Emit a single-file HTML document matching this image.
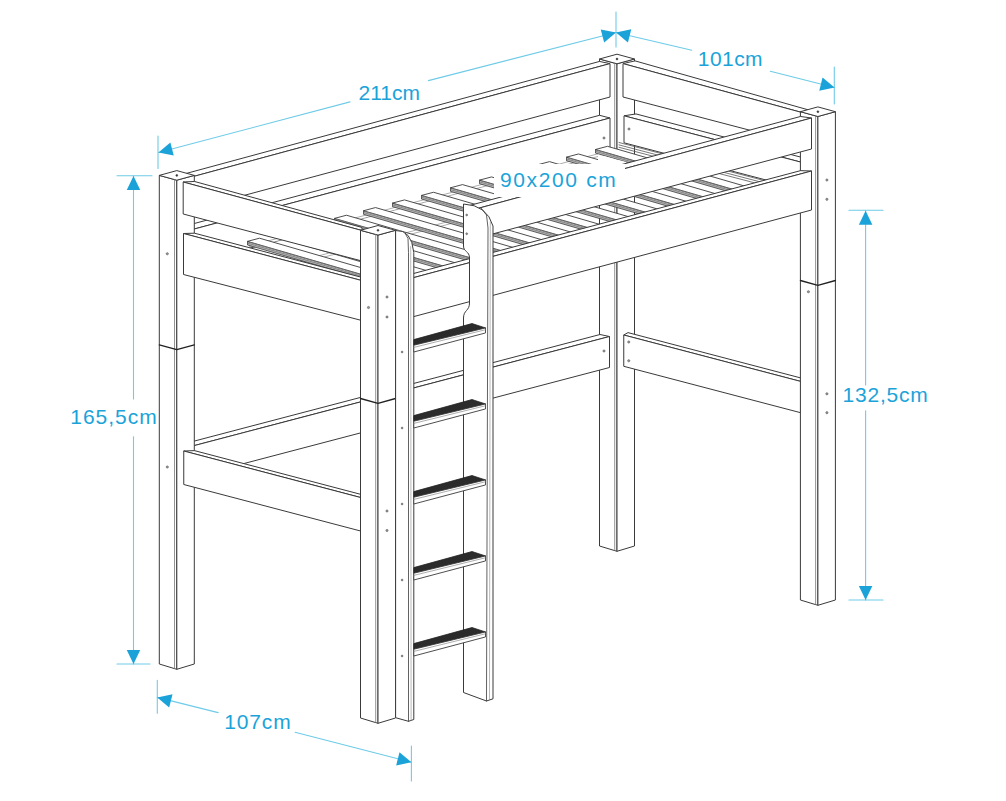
<!DOCTYPE html>
<html lang="en"><head><meta charset="utf-8"><title>Loft bed dimensions</title>
<style>
html,body{margin:0;padding:0;background:#fff;}
body{width:1006px;height:801px;overflow:hidden;}
svg{display:block;font-family:"Liberation Sans",sans-serif;}
</style></head><body>
<svg width="1006" height="801" viewBox="0 0 1006 801">
<rect width="1006" height="801" fill="#fff"/>
<polygon points="599.5,59 617,63.8 617,551.3 599.5,546" fill="#fff" stroke="#3a3a3a" stroke-width="1" stroke-linejoin="round" />
<polygon points="617,63.8 634.5,59 634.5,546 617,551.3" fill="#fff" stroke="#3a3a3a" stroke-width="1" stroke-linejoin="round" />
<polygon points="599.5,59 617,54.2 634.5,59 617,63.8" fill="#fff" stroke="#3a3a3a" stroke-width="1" stroke-linejoin="round" />
<line x1="614.7" y1="63.2" x2="614.7" y2="550.5" stroke="#777" stroke-width="0.8" stroke-linecap="round"/>
<circle cx="617" cy="59" r="0.9" fill="#333" stroke="#333" stroke-width="0.6"/>
<polygon points="185,448.02 609.5,336.5 600,334.5 185,443.52" fill="#fff" stroke="#3a3a3a" stroke-width="1" stroke-linejoin="round" />
<polygon points="185,448.02 609.5,336.5 609.5,367.5 185,479.02" fill="#fff" stroke="#3a3a3a" stroke-width="1" stroke-linejoin="round" />
<circle cx="604" cy="351" r="1.1" fill="#999" stroke="#555" stroke-width="0.6"/>
<polygon points="185,178.78 610,63.6 599.5,61.45 185,173.78" fill="#fff" stroke="#3a3a3a" stroke-width="1" stroke-linejoin="round" />
<polygon points="185,178.78 610,63.6 610,97 185,211.32" fill="#fff" stroke="#3a3a3a" stroke-width="1" stroke-linejoin="round" />
<polygon points="185,231.48 610,118 599.5,115.3 185,225.98" fill="#fff" stroke="#3a3a3a" stroke-width="1" stroke-linejoin="round" />
<polygon points="185,231.48 610,118 610,152 185,265.48" fill="#fff" stroke="#3a3a3a" stroke-width="1" stroke-linejoin="round" />
<circle cx="604" cy="138" r="1.1" fill="#999" stroke="#555" stroke-width="0.6"/>
<polygon points="623,63.6 801,112.28 809,110.07 635,60.88" fill="#fff" stroke="#3a3a3a" stroke-width="1" stroke-linejoin="round" />
<polygon points="623,63.6 801,112.28 801,143.64 623,97" fill="#fff" stroke="#3a3a3a" stroke-width="1" stroke-linejoin="round" />
<polygon points="624,115.8 801,162.17 802,157.44 636,113.94" fill="#fff" stroke="#3a3a3a" stroke-width="1" stroke-linejoin="round" />
<polygon points="624,115.8 801,162.17 801,189.17 624,142.8" fill="#fff" stroke="#3a3a3a" stroke-width="1" stroke-linejoin="round" />
<circle cx="629" cy="129" r="1.1" fill="#999" stroke="#555" stroke-width="0.6"/>
<line x1="619" y1="142.5" x2="800" y2="189.92" stroke="#555" stroke-width="0.8" stroke-linecap="round"/>
<line x1="619" y1="144.9" x2="800" y2="192.32" stroke="#555" stroke-width="0.8" stroke-linecap="round"/>
<line x1="619" y1="147.3" x2="800" y2="194.72" stroke="#555" stroke-width="0.8" stroke-linecap="round"/>
<polygon points="623.75,335 801,381.51 803,378.54 628,332.62" fill="#fff" stroke="#3a3a3a" stroke-width="1" stroke-linejoin="round" />
<polygon points="623.75,335 801,381.51 801,412.81 623.75,366.3" fill="#fff" stroke="#3a3a3a" stroke-width="1" stroke-linejoin="round" />
<circle cx="628.75" cy="342" r="1.1" fill="#999" stroke="#555" stroke-width="0.6"/>
<circle cx="628.75" cy="360.75" r="1.1" fill="#999" stroke="#555" stroke-width="0.6"/>
<polygon points="249,245.95 615,149.33 620,150.68 254,247.3" fill="#fff" stroke="#777" stroke-width="0.6" stroke-linejoin="round" />
<polygon points="300,260.74 666,164.12 671,165.47 305,262.09" fill="#fff" stroke="#777" stroke-width="0.6" stroke-linejoin="round" />
<polygon points="218.5,249.02 388.5,298.32 388.5,301.92 218.5,252.62" fill="#b9b9b9" stroke="#3a3a3a" stroke-width="0.8" stroke-linejoin="round" />
<line x1="218.5" y1="250.82" x2="388.5" y2="300.12" stroke="#666" stroke-width="0.6" stroke-linecap="round"/>
<polygon points="218.5,249.02 230.5,245.85 400.5,295.15 388.5,298.32" fill="#fff" stroke="#3a3a3a" stroke-width="0.9" stroke-linejoin="round" />
<line x1="220.5" y1="249.92" x2="390.5" y2="299.22" stroke="#999" stroke-width="0.5" stroke-linecap="round"/>
<polygon points="247.5,241.36 417.5,290.66 417.5,294.26 247.5,244.96" fill="#b9b9b9" stroke="#3a3a3a" stroke-width="0.8" stroke-linejoin="round" />
<line x1="247.5" y1="243.16" x2="417.5" y2="292.46" stroke="#666" stroke-width="0.6" stroke-linecap="round"/>
<polygon points="247.5,241.36 259.5,238.2 429.5,287.5 417.5,290.66" fill="#fff" stroke="#3a3a3a" stroke-width="0.9" stroke-linejoin="round" />
<line x1="249.5" y1="242.26" x2="419.5" y2="291.56" stroke="#999" stroke-width="0.5" stroke-linecap="round"/>
<polygon points="276.5,233.71 446.5,283.01 446.5,286.61 276.5,237.31" fill="#b9b9b9" stroke="#3a3a3a" stroke-width="0.8" stroke-linejoin="round" />
<line x1="276.5" y1="235.51" x2="446.5" y2="284.81" stroke="#666" stroke-width="0.6" stroke-linecap="round"/>
<polygon points="276.5,233.71 288.5,230.54 458.5,279.84 446.5,283.01" fill="#fff" stroke="#3a3a3a" stroke-width="0.9" stroke-linejoin="round" />
<line x1="278.5" y1="234.61" x2="448.5" y2="283.91" stroke="#999" stroke-width="0.5" stroke-linecap="round"/>
<polygon points="305.5,226.05 475.5,275.35 475.5,278.95 305.5,229.65" fill="#b9b9b9" stroke="#3a3a3a" stroke-width="0.8" stroke-linejoin="round" />
<line x1="305.5" y1="227.85" x2="475.5" y2="277.15" stroke="#666" stroke-width="0.6" stroke-linecap="round"/>
<polygon points="305.5,226.05 317.5,222.88 487.5,272.18 475.5,275.35" fill="#fff" stroke="#3a3a3a" stroke-width="0.9" stroke-linejoin="round" />
<line x1="307.5" y1="226.95" x2="477.5" y2="276.25" stroke="#999" stroke-width="0.5" stroke-linecap="round"/>
<polygon points="334.5,218.4 504.5,267.7 504.5,271.3 334.5,222" fill="#b9b9b9" stroke="#3a3a3a" stroke-width="0.8" stroke-linejoin="round" />
<line x1="334.5" y1="220.2" x2="504.5" y2="269.5" stroke="#666" stroke-width="0.6" stroke-linecap="round"/>
<polygon points="334.5,218.4 346.5,215.23 516.5,264.53 504.5,267.7" fill="#fff" stroke="#3a3a3a" stroke-width="0.9" stroke-linejoin="round" />
<line x1="336.5" y1="219.3" x2="506.5" y2="268.6" stroke="#999" stroke-width="0.5" stroke-linecap="round"/>
<polygon points="363.5,210.74 533.5,260.04 533.5,263.64 363.5,214.34" fill="#b9b9b9" stroke="#3a3a3a" stroke-width="0.8" stroke-linejoin="round" />
<line x1="363.5" y1="212.54" x2="533.5" y2="261.84" stroke="#666" stroke-width="0.6" stroke-linecap="round"/>
<polygon points="363.5,210.74 375.5,207.57 545.5,256.87 533.5,260.04" fill="#fff" stroke="#3a3a3a" stroke-width="0.9" stroke-linejoin="round" />
<line x1="365.5" y1="211.64" x2="535.5" y2="260.94" stroke="#999" stroke-width="0.5" stroke-linecap="round"/>
<polygon points="392.5,203.08 562.5,252.38 562.5,255.98 392.5,206.68" fill="#b9b9b9" stroke="#3a3a3a" stroke-width="0.8" stroke-linejoin="round" />
<line x1="392.5" y1="204.88" x2="562.5" y2="254.18" stroke="#666" stroke-width="0.6" stroke-linecap="round"/>
<polygon points="392.5,203.08 404.5,199.92 574.5,249.22 562.5,252.38" fill="#fff" stroke="#3a3a3a" stroke-width="0.9" stroke-linejoin="round" />
<line x1="394.5" y1="203.98" x2="564.5" y2="253.28" stroke="#999" stroke-width="0.5" stroke-linecap="round"/>
<polygon points="421.5,195.43 591.5,244.73 591.5,248.33 421.5,199.03" fill="#b9b9b9" stroke="#3a3a3a" stroke-width="0.8" stroke-linejoin="round" />
<line x1="421.5" y1="197.23" x2="591.5" y2="246.53" stroke="#666" stroke-width="0.6" stroke-linecap="round"/>
<polygon points="421.5,195.43 433.5,192.26 603.5,241.56 591.5,244.73" fill="#fff" stroke="#3a3a3a" stroke-width="0.9" stroke-linejoin="round" />
<line x1="423.5" y1="196.33" x2="593.5" y2="245.63" stroke="#999" stroke-width="0.5" stroke-linecap="round"/>
<polygon points="450.5,187.77 620.5,237.07 620.5,240.67 450.5,191.37" fill="#b9b9b9" stroke="#3a3a3a" stroke-width="0.8" stroke-linejoin="round" />
<line x1="450.5" y1="189.57" x2="620.5" y2="238.87" stroke="#666" stroke-width="0.6" stroke-linecap="round"/>
<polygon points="450.5,187.77 462.5,184.6 632.5,233.9 620.5,237.07" fill="#fff" stroke="#3a3a3a" stroke-width="0.9" stroke-linejoin="round" />
<line x1="452.5" y1="188.67" x2="622.5" y2="237.97" stroke="#999" stroke-width="0.5" stroke-linecap="round"/>
<polygon points="479.5,180.12 649.5,229.42 649.5,233.02 479.5,183.72" fill="#b9b9b9" stroke="#3a3a3a" stroke-width="0.8" stroke-linejoin="round" />
<line x1="479.5" y1="181.92" x2="649.5" y2="231.22" stroke="#666" stroke-width="0.6" stroke-linecap="round"/>
<polygon points="479.5,180.12 491.5,176.95 661.5,226.25 649.5,229.42" fill="#fff" stroke="#3a3a3a" stroke-width="0.9" stroke-linejoin="round" />
<line x1="481.5" y1="181.02" x2="651.5" y2="230.32" stroke="#999" stroke-width="0.5" stroke-linecap="round"/>
<polygon points="508.5,172.46 678.5,221.76 678.5,225.36 508.5,176.06" fill="#b9b9b9" stroke="#3a3a3a" stroke-width="0.8" stroke-linejoin="round" />
<line x1="508.5" y1="174.26" x2="678.5" y2="223.56" stroke="#666" stroke-width="0.6" stroke-linecap="round"/>
<polygon points="508.5,172.46 520.5,169.29 690.5,218.59 678.5,221.76" fill="#fff" stroke="#3a3a3a" stroke-width="0.9" stroke-linejoin="round" />
<line x1="510.5" y1="173.36" x2="680.5" y2="222.66" stroke="#999" stroke-width="0.5" stroke-linecap="round"/>
<polygon points="537.5,164.8 707.5,214.1 707.5,217.7 537.5,168.4" fill="#b9b9b9" stroke="#3a3a3a" stroke-width="0.8" stroke-linejoin="round" />
<line x1="537.5" y1="166.6" x2="707.5" y2="215.9" stroke="#666" stroke-width="0.6" stroke-linecap="round"/>
<polygon points="537.5,164.8 549.5,161.64 719.5,210.94 707.5,214.1" fill="#fff" stroke="#3a3a3a" stroke-width="0.9" stroke-linejoin="round" />
<line x1="539.5" y1="165.7" x2="709.5" y2="215" stroke="#999" stroke-width="0.5" stroke-linecap="round"/>
<polygon points="566.5,157.15 736.5,206.45 736.5,210.05 566.5,160.75" fill="#b9b9b9" stroke="#3a3a3a" stroke-width="0.8" stroke-linejoin="round" />
<line x1="566.5" y1="158.95" x2="736.5" y2="208.25" stroke="#666" stroke-width="0.6" stroke-linecap="round"/>
<polygon points="566.5,157.15 578.5,153.98 748.5,203.28 736.5,206.45" fill="#fff" stroke="#3a3a3a" stroke-width="0.9" stroke-linejoin="round" />
<line x1="568.5" y1="158.05" x2="738.5" y2="207.35" stroke="#999" stroke-width="0.5" stroke-linecap="round"/>
<polygon points="595.5,149.49 765.5,198.79 765.5,202.39 595.5,153.09" fill="#b9b9b9" stroke="#3a3a3a" stroke-width="0.8" stroke-linejoin="round" />
<line x1="595.5" y1="151.29" x2="765.5" y2="200.59" stroke="#666" stroke-width="0.6" stroke-linecap="round"/>
<polygon points="595.5,149.49 607.5,146.32 777.5,195.62 765.5,198.79" fill="#fff" stroke="#3a3a3a" stroke-width="0.9" stroke-linejoin="round" />
<line x1="597.5" y1="150.39" x2="767.5" y2="199.69" stroke="#999" stroke-width="0.5" stroke-linecap="round"/>
<polygon points="598,154.5 626,162 626,166 598,166" fill="#fff" stroke="none" stroke-width="0" stroke-linejoin="round" />
<polygon points="800.4,111.7 817.9,116.5 817.9,605.3 800.4,600" fill="#fff" stroke="#3a3a3a" stroke-width="1" stroke-linejoin="round" />
<polygon points="817.9,116.5 835.4,111.7 835.4,600 817.9,605.3" fill="#fff" stroke="#3a3a3a" stroke-width="1" stroke-linejoin="round" />
<polygon points="800.4,111.7 817.9,106.9 835.4,111.7 817.9,116.5" fill="#fff" stroke="#3a3a3a" stroke-width="1" stroke-linejoin="round" />
<line x1="815.6" y1="115.9" x2="815.6" y2="604.5" stroke="#777" stroke-width="0.8" stroke-linecap="round"/>
<circle cx="817.9" cy="111.7" r="0.9" fill="#333" stroke="#333" stroke-width="0.6"/>
<polyline points="800.4,280.5 817.9,285.3 835.4,280.5" fill="none" stroke="#222" stroke-width="1.3" stroke-linejoin="round" stroke-linecap="round" />
<circle cx="808.4" cy="291.75" r="1.1" fill="#999" stroke="#555" stroke-width="0.6"/>
<circle cx="826.9" cy="180" r="1.1" fill="#999" stroke="#555" stroke-width="0.6"/>
<circle cx="826.9" cy="199.3" r="1.1" fill="#999" stroke="#555" stroke-width="0.6"/>
<circle cx="826.9" cy="393.8" r="1.1" fill="#999" stroke="#555" stroke-width="0.6"/>
<circle cx="826.9" cy="412.7" r="1.1" fill="#999" stroke="#555" stroke-width="0.6"/>
<polygon points="470,210.55 811.5,118 800.5,116.48 470,205.35" fill="#fff" stroke="#3a3a3a" stroke-width="1" stroke-linejoin="round" />
<polygon points="470,210.55 811.5,118 811.5,149 470,240.01" fill="#fff" stroke="#3a3a3a" stroke-width="1" stroke-linejoin="round" />
<polygon points="390,283.96 811.5,171 800.5,170.65 390,279.76" fill="#fff" stroke="#3a3a3a" stroke-width="1" stroke-linejoin="round" />
<polygon points="390,283.96 811.5,171 811.5,210 390,322.96" fill="#fff" stroke="#3a3a3a" stroke-width="1" stroke-linejoin="round" />
<polygon points="159.3,175.4 176.8,180.2 176.8,669.3 159.3,664" fill="#fff" stroke="#3a3a3a" stroke-width="1" stroke-linejoin="round" />
<polygon points="176.8,180.2 194.3,175.4 194.3,664 176.8,669.3" fill="#fff" stroke="#3a3a3a" stroke-width="1" stroke-linejoin="round" />
<polygon points="159.3,175.4 176.8,170.6 194.3,175.4 176.8,180.2" fill="#fff" stroke="#3a3a3a" stroke-width="1" stroke-linejoin="round" />
<line x1="174.5" y1="179.6" x2="174.5" y2="668.5" stroke="#777" stroke-width="0.8" stroke-linecap="round"/>
<circle cx="176.8" cy="175.4" r="0.9" fill="#333" stroke="#333" stroke-width="0.6"/>
<polyline points="159.3,344.8 176.8,349.6 194.3,344.8" fill="none" stroke="#222" stroke-width="1.3" stroke-linejoin="round" stroke-linecap="round" />
<circle cx="167.3" cy="253.75" r="1.1" fill="#999" stroke="#555" stroke-width="0.6"/>
<circle cx="167.3" cy="467" r="1.1" fill="#999" stroke="#555" stroke-width="0.6"/>
<polygon points="183.2,182 362,230.54 362,227.44 194.5,181.47" fill="#fff" stroke="#3a3a3a" stroke-width="1" stroke-linejoin="round" />
<polygon points="183.2,182 362,230.54 362,261.02 183.2,214" fill="#fff" stroke="#3a3a3a" stroke-width="1" stroke-linejoin="round" />
<polygon points="183.5,233.5 362,280.62 362,277.42 194.5,233.2" fill="#fff" stroke="#3a3a3a" stroke-width="1" stroke-linejoin="round" />
<polygon points="183.5,233.5 362,280.62 362,320.55 183.5,274.5" fill="#fff" stroke="#3a3a3a" stroke-width="1" stroke-linejoin="round" />
<polygon points="183.75,451 362,497.88 362,494.68 194.5,450.63" fill="#fff" stroke="#3a3a3a" stroke-width="1" stroke-linejoin="round" />
<polygon points="183.75,451 362,497.88 362,531.38 183.75,484.5" fill="#fff" stroke="#3a3a3a" stroke-width="1" stroke-linejoin="round" />
<polygon points="360.5,230.3 378,235.1 378,723.3 360.5,718" fill="#fff" stroke="#3a3a3a" stroke-width="1" stroke-linejoin="round" />
<polygon points="378,235.1 395.5,230.3 395.5,718 378,723.3" fill="#fff" stroke="#3a3a3a" stroke-width="1" stroke-linejoin="round" />
<polygon points="360.5,230.3 378,225.5 395.5,230.3 378,235.1" fill="#fff" stroke="#3a3a3a" stroke-width="1" stroke-linejoin="round" />
<line x1="375.7" y1="234.5" x2="375.7" y2="722.5" stroke="#777" stroke-width="0.8" stroke-linecap="round"/>
<circle cx="378" cy="230.3" r="0.9" fill="#333" stroke="#333" stroke-width="0.6"/>
<polyline points="360.5,398.5 378,403.3 395.5,398.5" fill="none" stroke="#222" stroke-width="1.3" stroke-linejoin="round" stroke-linecap="round" />
<circle cx="368.5" cy="307.5" r="1.1" fill="#999" stroke="#555" stroke-width="0.6"/>
<circle cx="387" cy="297" r="1.1" fill="#999" stroke="#555" stroke-width="0.6"/>
<circle cx="387" cy="317" r="1.1" fill="#999" stroke="#555" stroke-width="0.6"/>
<circle cx="387" cy="511" r="1.1" fill="#999" stroke="#555" stroke-width="0.6"/>
<circle cx="387" cy="530.5" r="1.1" fill="#999" stroke="#555" stroke-width="0.6"/>
<path d="M 395.6 717.7 L 395.6 230.5 Q 411.5 229.5 413.8 252.5 L 413.8 719.5 L 408.5 721.3 L 395.6 717.7 Z" fill="#fff" stroke="#3a3a3a" stroke-width="1" stroke-linejoin="round"/>
<polyline points="405.5,234 408,238.5 408.5,252.5 408.5,721.3" fill="none" stroke="#3a3a3a" stroke-width="0.8" stroke-linejoin="round" stroke-linecap="round" />
<polyline points="410.7,246.5 411.1,720.5" fill="none" stroke="#888" stroke-width="0.6" stroke-linejoin="round" stroke-linecap="round" />
<circle cx="402.1" cy="352" r="0.9" fill="#999" stroke="#555" stroke-width="0.6"/>
<circle cx="402.1" cy="428" r="0.9" fill="#999" stroke="#555" stroke-width="0.6"/>
<circle cx="402.1" cy="504" r="0.9" fill="#999" stroke="#555" stroke-width="0.6"/>
<circle cx="402.1" cy="580" r="0.9" fill="#999" stroke="#555" stroke-width="0.6"/>
<circle cx="402.1" cy="656" r="0.9" fill="#999" stroke="#555" stroke-width="0.6"/>
<path d="M 463.5 204 L 463.5 246 C 463.5 252 469.5 251 469.5 258 L 469.5 303 C 469.5 311 463.5 310 463.5 318 L 463.5 692.5 L 486.5 701 L 493 698.8 L 493 226 Q 487 205 463.5 204 Z" fill="#fff" stroke="#3a3a3a" stroke-width="1" stroke-linejoin="round"/>
<polyline points="481,208 486.5,215 488,228 486.5,701" fill="none" stroke="#3a3a3a" stroke-width="0.8" stroke-linejoin="round" stroke-linecap="round" />
<polyline points="490.3,222 489.5,699.8" fill="none" stroke="#888" stroke-width="0.6" stroke-linejoin="round" stroke-linecap="round" />
<circle cx="466.7" cy="215" r="0.9" fill="#999" stroke="#555" stroke-width="0.6"/>
<circle cx="466.7" cy="233.75" r="0.9" fill="#999" stroke="#555" stroke-width="0.6"/>
<polygon points="413.8,339.6 472,323.54 485.5,327.94 413.8,345.2" fill="#2b2b2b" stroke="#222" stroke-width="0.8" stroke-linejoin="round" />
<polygon points="413.8,345.2 485.5,327.94 485.5,332.94 413.8,352" fill="#fff" stroke="#3a3a3a" stroke-width="0.9" stroke-linejoin="round" />
<line x1="413.8" y1="347.4" x2="485.5" y2="329.74" stroke="#777" stroke-width="0.6" stroke-linecap="round"/>
<polygon points="413.8,415.6 472,399.54 485.5,403.94 413.8,421.2" fill="#2b2b2b" stroke="#222" stroke-width="0.8" stroke-linejoin="round" />
<polygon points="413.8,421.2 485.5,403.94 485.5,408.94 413.8,428" fill="#fff" stroke="#3a3a3a" stroke-width="0.9" stroke-linejoin="round" />
<line x1="413.8" y1="423.4" x2="485.5" y2="405.74" stroke="#777" stroke-width="0.6" stroke-linecap="round"/>
<polygon points="413.8,491.6 472,475.54 485.5,479.94 413.8,497.2" fill="#2b2b2b" stroke="#222" stroke-width="0.8" stroke-linejoin="round" />
<polygon points="413.8,497.2 485.5,479.94 485.5,484.94 413.8,504" fill="#fff" stroke="#3a3a3a" stroke-width="0.9" stroke-linejoin="round" />
<line x1="413.8" y1="499.4" x2="485.5" y2="481.74" stroke="#777" stroke-width="0.6" stroke-linecap="round"/>
<polygon points="413.8,567.6 472,551.54 485.5,555.94 413.8,573.2" fill="#2b2b2b" stroke="#222" stroke-width="0.8" stroke-linejoin="round" />
<polygon points="413.8,573.2 485.5,555.94 485.5,560.94 413.8,580" fill="#fff" stroke="#3a3a3a" stroke-width="0.9" stroke-linejoin="round" />
<line x1="413.8" y1="575.4" x2="485.5" y2="557.74" stroke="#777" stroke-width="0.6" stroke-linecap="round"/>
<polygon points="413.8,643.6 472,627.54 485.5,631.94 413.8,649.2" fill="#2b2b2b" stroke="#222" stroke-width="0.8" stroke-linejoin="round" />
<polygon points="413.8,649.2 485.5,631.94 485.5,636.94 413.8,656" fill="#fff" stroke="#3a3a3a" stroke-width="0.9" stroke-linejoin="round" />
<line x1="413.8" y1="651.4" x2="485.5" y2="633.74" stroke="#777" stroke-width="0.6" stroke-linecap="round"/>
<rect x="494" y="164" width="131" height="33" fill="#fff"/>
<line x1="158" y1="136" x2="158" y2="168.5" stroke="#6fcbe8" stroke-width="1.1" stroke-linecap="round"/>
<line x1="616" y1="12" x2="616" y2="47" stroke="#6fcbe8" stroke-width="1.1" stroke-linecap="round"/>
<line x1="158.5" y1="152.5" x2="350" y2="101.9" stroke="#6fcbe8" stroke-width="1.1" stroke-linecap="round"/>
<line x1="428.4" y1="80.6" x2="616" y2="32.5" stroke="#6fcbe8" stroke-width="1.1" stroke-linecap="round"/>
<polygon points="158.5,152.5 170.33,142.42 173.75,155.48" fill="#1ba3d9" stroke="none" stroke-width="0" stroke-linejoin="round" />
<polygon points="616,32.5 604.17,42.58 600.75,29.52" fill="#1ba3d9" stroke="none" stroke-width="0" stroke-linejoin="round" />
<text x="389.2" y="99.8" font-size="21" text-anchor="middle" fill="#1ba3d9" letter-spacing="0">211cm</text>
<line x1="616" y1="32.5" x2="691.8" y2="50.2" stroke="#6fcbe8" stroke-width="1.1" stroke-linecap="round"/>
<line x1="770.3" y1="71.3" x2="834.5" y2="87.5" stroke="#6fcbe8" stroke-width="1.1" stroke-linecap="round"/>
<line x1="834.3" y1="67" x2="834.3" y2="104" stroke="#6fcbe8" stroke-width="1.1" stroke-linecap="round"/>
<polygon points="616,32.5 631.22,29.37 627.93,42.46" fill="#1ba3d9" stroke="none" stroke-width="0" stroke-linejoin="round" />
<polygon points="834.5,87.5 819.28,90.63 822.57,77.54" fill="#1ba3d9" stroke="none" stroke-width="0" stroke-linejoin="round" />
<text x="730.4" y="66.1" font-size="21" text-anchor="middle" fill="#1ba3d9" letter-spacing="0.45">101cm</text>
<line x1="117" y1="175.7" x2="152" y2="175.7" stroke="#6fcbe8" stroke-width="1.1" stroke-linecap="round"/>
<line x1="117" y1="664" x2="150" y2="664" stroke="#6fcbe8" stroke-width="1.1" stroke-linecap="round"/>
<line x1="133.5" y1="176" x2="133.5" y2="399" stroke="#6fcbe8" stroke-width="1.1" stroke-linecap="round"/>
<line x1="133.5" y1="436.7" x2="133.5" y2="664" stroke="#6fcbe8" stroke-width="1.1" stroke-linecap="round"/>
<polygon points="133.5,176 140.25,190 126.75,190" fill="#1ba3d9" stroke="none" stroke-width="0" stroke-linejoin="round" />
<polygon points="133.5,664 126.75,650 140.25,650" fill="#1ba3d9" stroke="none" stroke-width="0" stroke-linejoin="round" />
<text x="114" y="424" font-size="21" text-anchor="middle" fill="#1ba3d9" letter-spacing="1">165,5cm</text>
<line x1="849" y1="210.3" x2="883" y2="210.3" stroke="#6fcbe8" stroke-width="1.1" stroke-linecap="round"/>
<line x1="849" y1="600" x2="883" y2="600" stroke="#6fcbe8" stroke-width="1.1" stroke-linecap="round"/>
<line x1="865.6" y1="210.5" x2="865.6" y2="385" stroke="#6fcbe8" stroke-width="1.1" stroke-linecap="round"/>
<line x1="865.6" y1="410.7" x2="865.6" y2="600" stroke="#6fcbe8" stroke-width="1.1" stroke-linecap="round"/>
<polygon points="865.6,210.8 872.35,224.8 858.85,224.8" fill="#1ba3d9" stroke="none" stroke-width="0" stroke-linejoin="round" />
<polygon points="865.6,600 858.85,586 872.35,586" fill="#1ba3d9" stroke="none" stroke-width="0" stroke-linejoin="round" />
<text x="885.6" y="402.1" font-size="21" text-anchor="middle" fill="#1ba3d9" letter-spacing="0.8">132,5cm</text>
<line x1="157.3" y1="680.4" x2="157.3" y2="713.2" stroke="#6fcbe8" stroke-width="1.1" stroke-linecap="round"/>
<line x1="411.4" y1="746" x2="411.4" y2="781" stroke="#6fcbe8" stroke-width="1.1" stroke-linecap="round"/>
<line x1="157.3" y1="697.4" x2="218.1" y2="712.6" stroke="#6fcbe8" stroke-width="1.1" stroke-linecap="round"/>
<line x1="295.1" y1="732.3" x2="411.4" y2="762.3" stroke="#6fcbe8" stroke-width="1.1" stroke-linecap="round"/>
<polygon points="157.3,697.4 172.53,694.32 169.19,707.4" fill="#1ba3d9" stroke="none" stroke-width="0" stroke-linejoin="round" />
<polygon points="411.4,762.3 396.17,765.38 399.51,752.3" fill="#1ba3d9" stroke="none" stroke-width="0" stroke-linejoin="round" />
<text x="257.9" y="729" font-size="21" text-anchor="middle" fill="#1ba3d9" letter-spacing="0.85">107cm</text>
<text x="558.7" y="187" font-size="21" text-anchor="middle" fill="#1ba3d9" letter-spacing="1.65">90x200 cm</text>
</svg>
</body></html>
